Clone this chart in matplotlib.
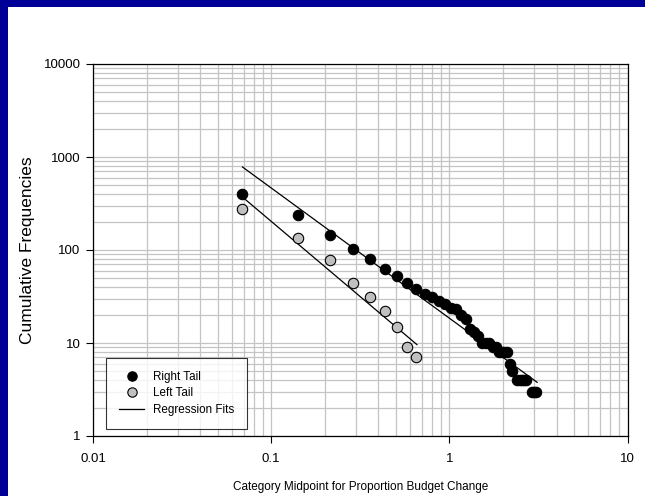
import numpy as np
import matplotlib
matplotlib.use("Agg")
import matplotlib.pyplot as plt
from matplotlib.ticker import FixedLocator, LogLocator, NullFormatter
from matplotlib.patches import Rectangle

plt.rcParams["font.family"] = ["Liberation Sans", "DejaVu Sans"]

# =====================================
# DATA
# =====================================

right_x = [0.069, 0.142, 0.215, 0.288, 0.361, 0.434, 0.507, 0.580, 0.653, 0.726,
           0.799, 0.872, 0.945, 1.018, 1.091, 1.164, 1.237, 1.310, 1.383, 1.456,
           1.529, 1.602, 1.675, 1.748, 1.821, 1.894, 1.967, 2.040, 2.113, 2.186,
           2.259, 2.405, 2.478, 2.551, 2.624, 2.697, 2.916, 2.989, 3.062]
right_y = [405, 240, 145, 102, 81, 63, 53, 44, 38, 34,
           31, 28, 26, 24, 23, 20, 18, 14, 13, 12,
           10, 10, 10, 9, 9, 8, 8, 8, 8, 6,
           5, 4, 4, 4, 4, 4, 3, 3, 3]

left_x = [0.069, 0.142, 0.215, 0.288, 0.361, 0.434, 0.507, 0.580, 0.653]
left_y = [275, 135, 79, 44, 31, 22, 15, 9, 7]

# power-law fits  y = a * x**b
right_fit_a, right_fit_b = 18.5, -1.40
right_fit_range = [0.069, 3.11]
left_fit_a, left_fit_b = 4.88, -1.62
left_fit_range = [0.069, 0.658]

x_ticks = [0.01, 0.1, 1, 10]
x_tick_labels = ["0.01", "0.1", "1", "10"]
y_ticks = [1, 10, 100, 1000, 10000]
y_tick_labels = ["1", "10", "100", "1000", "10000"]

# =====================================
# FIGURE
# =====================================

fig = plt.figure(figsize=(6.45, 4.96), dpi=100)
fig.patch.set_facecolor("#000099")
fig.patches.append(Rectangle((8 / 645, 0), 1, 1 - 7 / 496, transform=fig.transFigure,
                             facecolor="white", edgecolor="none", zorder=-1))

ax = fig.add_axes([93 / 645, 60 / 496, 534.5 / 645, 372 / 496])
ax.set_xscale("log")
ax.set_yscale("log")
ax.set_xlim(0.01, 10)
ax.set_ylim(1, 10000)

ax.xaxis.set_major_locator(FixedLocator(x_ticks))
ax.set_xticklabels(x_tick_labels)
ax.yaxis.set_major_locator(FixedLocator(y_ticks))
ax.set_yticklabels(y_tick_labels)
ax.xaxis.set_minor_locator(LogLocator(base=10, subs=np.arange(2, 10)))
ax.yaxis.set_minor_locator(LogLocator(base=10, subs=np.arange(2, 10)))
ax.xaxis.set_minor_formatter(NullFormatter())
ax.yaxis.set_minor_formatter(NullFormatter())

ax.grid(True, which="both", color="#c4c4c4", linewidth=0.9)
ax.set_axisbelow(True)
ax.tick_params(which="major", direction="out", length=5, width=0.8,
               labelsize=9.5, pad=4, top=False, right=False)
ax.tick_params(axis="x", which="major", pad=7)
ax.tick_params(which="minor", length=0)
for s in ax.spines.values():
    s.set_linewidth(0.9)
    s.set_color("black")

# regression fits
rx = np.array(right_fit_range)
ax.plot(rx, right_fit_a * rx ** right_fit_b, color="black", linewidth=0.9, zorder=2)
lx = np.array(left_fit_range)
ax.plot(lx, left_fit_a * lx ** left_fit_b, color="black", linewidth=0.9, zorder=2)

ax.plot(right_x, right_y, "o", color="black", markeredgecolor="black",
        markersize=7.5, markeredgewidth=0.8, zorder=3, label="Right Tail")
ax.plot(left_x, left_y, "o", color="#c0c0c0", markeredgecolor="black",
        markersize=7.5, markeredgewidth=0.8, zorder=3, label="Left Tail")
ax.plot([], [], color="black", linewidth=0.9, label="Regression Fits")

leg = ax.legend(loc="lower left", bbox_to_anchor=(13 / 534.5, 7 / 372),
                fontsize=8.4, frameon=True, fancybox=False, edgecolor="black",
                borderpad=1.15, labelspacing=0.35, handlelength=2.1,
                handletextpad=0.75, borderaxespad=0, markerscale=0.9)
leg.get_frame().set_linewidth(0.8)

ax.set_xlabel("Category Midpoint for Proportion Budget Change", fontsize=8.5, labelpad=12)
ax.set_ylabel("Cumulative Frequencies", fontsize=12.5, labelpad=6)

plt.savefig("out.png", dpi=100, facecolor=fig.get_facecolor())
plt.close()
